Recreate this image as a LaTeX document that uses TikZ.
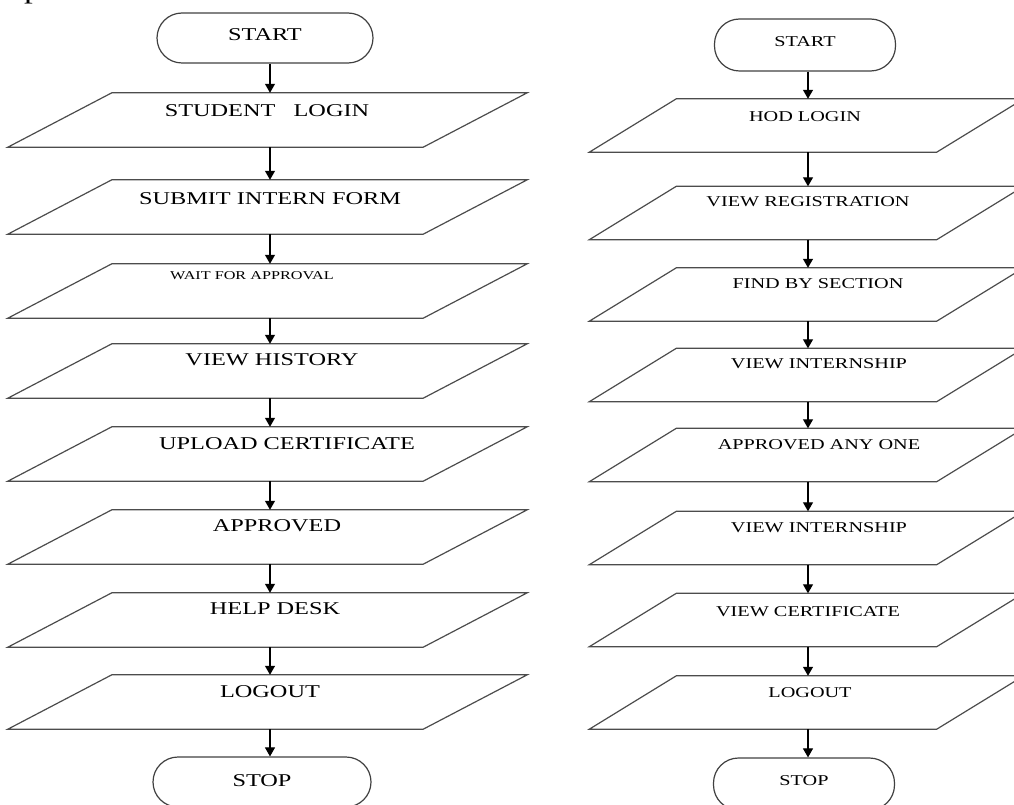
\documentclass[tikz,border=0pt]{standalone}
\usepackage{fontspec}
\newfontfamily\flowfont[FakeStretch=1.35]{Liberation Serif}
\usetikzlibrary{arrows.meta}
\newcommand\paraoutline[2]{\draw[paraline] ([xshift=#2]#1.north west) -- ([xshift=#2]#1.north east) -- ([xshift=-#2]#1.south east) -- ([xshift=-#2]#1.south west) -- cycle;}
\begin{document}
\begin{tikzpicture}[x=1pt,y=-1pt,
  termbox/.style={draw=black!75, line width=1.2pt, rounded corners=25pt, inner sep=0pt},
  lbody/.style={minimum width=415pt, minimum height=54pt, inner sep=0pt},
  rbody/.style={minimum width=347pt, minimum height=53pt, inner sep=0pt},
  paraline/.style={draw=black!70, line width=1.2pt},
  arr/.style={line width=1.1pt, -{Triangle[length=9pt,width=10pt]}},
  ltxt/.style={font=\flowfont\fontsize{18}{18}\selectfont, inner sep=0pt},
  stxt/.style={font=\flowfont\fontsize{12}{12}\selectfont, inner sep=0pt},
  rtxt/.style={font=\flowfont\fontsize{15}{15}\selectfont, inner sep=0pt},
]
\useasboundingbox (0,0) rectangle (1014,805);

% fragment of text at the top-left edge
\node[font=\flowfont\fontsize{26}{26}\selectfont, inner sep=0pt, anchor=base] (frag) at (33,-1) {p};

% ---------- left column ----------
\node[termbox, minimum width=216pt, minimum height=50pt] (LS) at (265,38) {};
\node[ltxt] (LSt) at (265,35) {START};
\node[lbody] (L1) at (267.5,120) {};
\node[lbody] (L2) at (267.5,207) {};
\node[lbody] (L3) at (267.5,291) {};
\node[lbody] (L4) at (267.5,371) {};
\node[lbody] (L5) at (267.5,454) {};
\node[lbody] (L6) at (267.5,537) {};
\node[lbody] (L7) at (267.5,620) {};
\node[lbody] (L8) at (267.5,702) {};
\node[termbox, minimum width=218pt, minimum height=50pt] (LE) at (262,782) {};
\node[ltxt] (LEt) at (262,781) {STOP};
\foreach \n in {L1,L2,L3,L4,L5,L6,L7,L8} {\paraoutline{\n}{52}}

\node[ltxt] (L1t) at (267,111) {STUDENT\ \ \ LOGIN};
\node[ltxt] (L2t) at (270,199) {SUBMIT INTERN FORM};
\node[stxt] (L3t) at (252,276) {WAIT FOR APPROVAL};
\node[ltxt] (L4t) at (272,360) {VIEW HISTORY};
\node[ltxt] (L5t) at (287,444) {UPLOAD CERTIFICATE};
\node[ltxt] (L6t) at (277,526) {APPROVED};
\node[ltxt] (L7t) at (275,609) {HELP DESK};
\node[ltxt] (L8t) at (270,692) {LOGOUT};

\draw[arr] ([xshift=5]LS.south) -- ([xshift=2.5]L1.north);
\foreach \a/\b in {L1/L2,L2/L3,L3/L4,L4/L5,L5/L6,L6/L7,L7/L8}
  {\draw[arr] ([xshift=2.5]\a.south) -- ([xshift=2.5]\b.north);}
\draw[arr] ([xshift=2.5]L8.south) -- ([xshift=8]LE.north);

% ---------- right column ----------
\node[termbox, minimum width=181pt, minimum height=52pt] (RS) at (805,45) {};
\node[rtxt] (RSt) at (805,42) {START};
\node[rbody] (R1) at (806.5,125.5) {};
\node[rbody] (R2) at (806.5,213) {};
\node[rbody] (R3) at (806.5,294.5) {};
\node[rbody] (R4) at (806.5,375) {};
\node[rbody] (R5) at (806.5,455) {};
\node[rbody] (R6) at (806.5,538) {};
\node[rbody] (R7) at (806.5,620) {};
\node[rbody] (R8) at (806.5,702.5) {};
\node[termbox, minimum width=181pt, minimum height=52pt] (RE) at (804,784) {};
\node[rtxt] (REt) at (804,781) {STOP};
\foreach \n in {R1,R2,R3,R4,R5,R6,R7,R8} {\paraoutline{\n}{43.5}}

\node[rtxt] (R1t) at (805,117) {HOD LOGIN};
\node[rtxt] (R2t) at (808,202) {VIEW REGISTRATION};
\node[rtxt] (R3t) at (818,284) {FIND BY SECTION};
\node[rtxt] (R4t) at (819,364) {VIEW INTERNSHIP};
\node[rtxt] (R5t) at (819,445) {APPROVED ANY ONE};
\node[rtxt] (R6t) at (819,528) {VIEW INTERNSHIP};
\node[rtxt] (R7t) at (808,612) {VIEW CERTIFICATE};
\node[rtxt] (R8t) at (810,693) {LOGOUT};

\draw[arr] ([xshift=3]RS.south) -- ([xshift=1.5]R1.north);
\foreach \a/\b in {R1/R2,R2/R3,R3/R4,R4/R5,R5/R6,R6/R7,R7/R8}
  {\draw[arr] ([xshift=1.5]\a.south) -- ([xshift=1.5]\b.north);}
\draw[arr] ([xshift=1.5]R8.south) -- ([xshift=4]RE.north);
\end{tikzpicture}
\end{document}
